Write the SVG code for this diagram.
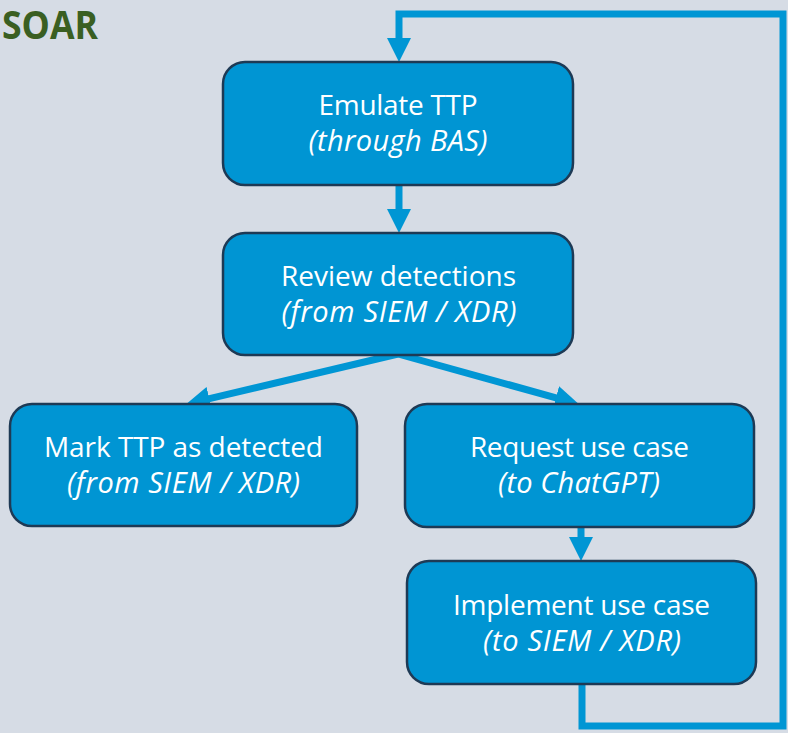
<svg xmlns="http://www.w3.org/2000/svg" width="788" height="733" viewBox="0 0 788 733">
  <style>
    .box { fill: #0095D3; stroke: #1E3A55; stroke-width: 2.5; }
    .lbl { fill: #FFFFFF; font-family: "Open Sans", "Noto Sans", sans-serif; font-size: 28px; text-anchor: middle; }
    .sub { font-style: italic; font-size: 29px; }
    .wire { fill: none; stroke: #0096D4; stroke-width: 7; }
    .title { fill: #3A5F22; font-family: "Open Sans", "Liberation Sans", sans-serif; font-weight: bold; font-size: 40px; }
  </style>
  <defs>
    <marker id="head" markerUnits="userSpaceOnUse" markerWidth="24" markerHeight="24" refX="2" refY="12" orient="auto">
      <path d="M0,0 L24,12 L0,24 Z" fill="#0096D4"/>
    </marker>
  </defs>

  <rect x="0" y="0" width="788" height="733" fill="#D6DCE5"/>

  <text class="title" x="2" y="39" textLength="96" lengthAdjust="spacingAndGlyphs">SOAR</text>

  <g id="connectors">
    <!-- feedback loop: implement -> back to emulate -->
    <path class="wire" d="M582,684 V726 H783 V14 H399 V40" marker-end="url(#head)"/>
    <!-- emulate -> review -->
    <path class="wire" d="M399,185 V211" marker-end="url(#head)"/>
    <!-- review -> mark detected -->
    <path class="wire" d="M398,354 L207.4,399.1" marker-end="url(#head)"/>
    <!-- review -> request use case -->
    <path class="wire" d="M398,354 L557.8,398.3" marker-end="url(#head)"/>
    <!-- request -> implement -->
    <path class="wire" d="M581,527 V539" marker-end="url(#head)"/>
  </g>

  <g id="emulate">
    <rect class="box" x="223" y="62" width="350" height="123" rx="22"/>
    <text class="lbl" x="398" y="115" textLength="159">Emulate TTP</text>
    <text class="lbl sub" x="398" y="151" textLength="179">(through BAS)</text>
  </g>

  <g id="review">
    <rect class="box" x="223" y="233" width="350" height="122" rx="22"/>
    <text class="lbl" x="398.5" y="286" textLength="235">Review detections</text>
    <text class="lbl sub" x="399" y="322" textLength="235">(from SIEM / XDR)</text>
  </g>

  <g id="mark">
    <rect class="box" x="10" y="404" width="347" height="122" rx="22"/>
    <text class="lbl" x="183.5" y="457" textLength="279">Mark TTP as detected</text>
    <text class="lbl sub" x="183.5" y="493" textLength="233">(from SIEM / XDR)</text>
  </g>

  <g id="request">
    <rect class="box" x="405" y="404" width="349" height="123" rx="22"/>
    <text class="lbl" x="579.5" y="457" textLength="219">Request use case</text>
    <text class="lbl sub" x="579" y="493" textLength="162">(to ChatGPT)</text>
  </g>

  <g id="implement">
    <rect class="box" x="407" y="561" width="349" height="123" rx="22"/>
    <text class="lbl" x="581.5" y="615" textLength="257">Implement use case</text>
    <text class="lbl sub" x="582" y="651" textLength="198">(to SIEM / XDR)</text>
  </g>
</svg>
